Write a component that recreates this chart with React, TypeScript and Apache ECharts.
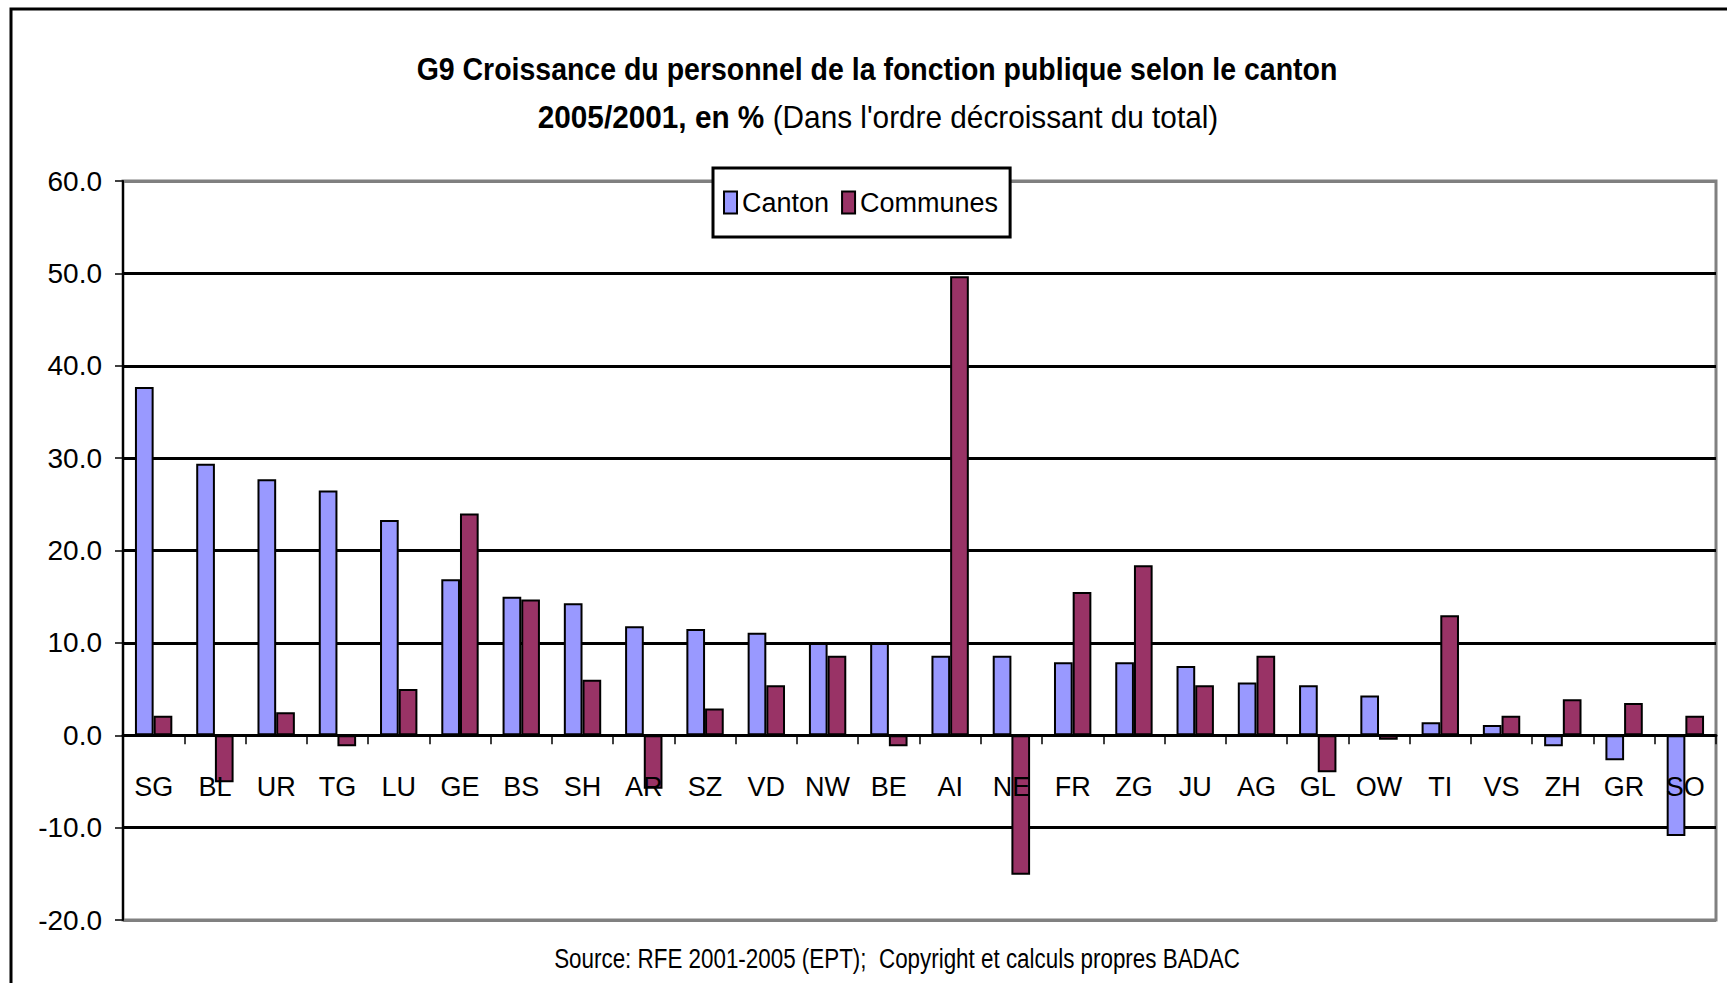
import React, { useEffect, useRef } from "react";
import * as echarts from "echarts";

const cantons = ["SG","BL","UR","TG","LU","GE","BS","SH","AR","SZ","VD","NW","BE","AI","NE","FR","ZG","JU","AG","GL","OW","TI","VS","ZH","GR","SO"];
const cantonValues = [37.7,29.4,27.7,26.5,23.3,16.9,15.0,14.3,11.8,11.5,11.1,10.0,10.0,8.6,8.6,7.9,7.9,7.5,5.7,5.4,4.3,1.4,1.1,-1.2,-2.7,-10.9];
const communesValues = [2.1,-5.1,2.5,-1.2,5.0,24.0,14.7,6.0,-5.8,2.9,5.4,8.6,-1.2,49.7,-15.1,15.5,18.4,5.4,8.6,-4.0,-0.5,13.0,2.1,3.9,3.5,2.1];
const seriesNames = ["Canton", "Communes"];
const yMin = -20;
const yMax = 60;
const yInterval = 10;

const titleLine1 = "G9 Croissance du personnel de la fonction publique selon le canton";
const titleLine2Bold = "2005/2001, en %";
const titleLine2Normal = "(Dans l'ordre décroissant du total)";
const footer = "Source: RFE 2001-2005 (EPT);  Copyright et calculs propres BADAC";

const FONT = "'Liberation Sans', Arial, sans-serif";

const W = 1727;
const H = 983;
const GRID = { left: 123, right: 11, top: 181, bottom: 63 };

export default function App() {
  const ref = useRef<HTMLDivElement>(null);
  useEffect(() => {
    if (!ref.current) return;
    const chart = echarts.init(ref.current, null, { renderer: "svg" });
    const plotH = H - GRID.top - GRID.bottom;
    const zeroFromBottom = plotH * (0 - yMin) / (yMax - yMin);
    const gridColors = ["#808080", "#000", "#000", "#000", "#000", "#000", "#000", "#000", "#808080"];
    chart.setOption({
      animation: false,
      backgroundColor: "#fff",
      textStyle: { fontFamily: FONT },
      grid: {
        left: GRID.left, right: GRID.right, top: GRID.top, bottom: GRID.bottom,
        show: true, borderColor: "#808080", borderWidth: 3, backgroundColor: "transparent",
      },
      legend: {
        left: 713, top: 168,
        data: seriesNames,
        icon: "rect",
        itemWidth: 13, itemHeight: 22, itemGap: 12,
        padding: [21, 12, 21, 10],
        borderColor: "#000", borderWidth: 3, backgroundColor: "#fff",
        itemStyle: { borderColor: "#000", borderWidth: 2 },
        textStyle: { fontFamily: FONT, fontSize: 27, color: "#000" },
      },
      xAxis: {
        type: "category",
        data: cantons,
        z: 10,
        offset: -zeroFromBottom,
        axisLine: { onZero: false, lineStyle: { color: "#000", width: 3 } },
        axisTick: { show: true, length: 9, lineStyle: { color: "#000", width: 1.5 } },
        axisLabel: { interval: 0, margin: 38, fontSize: 27, color: "#000", fontFamily: FONT },
        splitLine: { show: false },
      },
      yAxis: {
        type: "value",
        min: yMin, max: yMax, interval: yInterval,
        axisLine: { show: true, onZero: false, lineStyle: { color: "#000", width: 2 } },
        axisTick: { show: true, length: 8, lineStyle: { color: "#000", width: 1.5 } },
        axisLabel: { margin: 21, fontSize: 28, color: "#000", fontFamily: FONT, formatter: (v: number) => v.toFixed(1) },
        splitLine: { show: true, lineStyle: { color: gridColors, width: 3 } },
      },
      series: [
        {
          name: seriesNames[0], type: "bar", data: cantonValues,
          barWidth: "30.5%", barGap: "0%",
          itemStyle: { color: "#9999FF", borderColor: "#000", borderWidth: 2 },
        },
        {
          name: seriesNames[1], type: "bar", data: communesValues,
          barWidth: "30.5%", barGap: "0%",
          itemStyle: { color: "#993366", borderColor: "#000", borderWidth: 2 },
        },
      ],
      graphic: [
        {
          type: "rect", silent: true, z: 100,
          shape: { x: 11, y: 9, width: 1800, height: 1100 },
          style: { fill: "none", stroke: "#000", lineWidth: 3 },
        },
        {
          type: "text", x: 877, y: 69, scaleX: 0.89, z: 100,
          style: {
            text: titleLine1, textAlign: "center", textVerticalAlign: "middle",
            fontFamily: FONT, fontSize: 32, fontWeight: "bold", fill: "#000",
          },
        },
        {
          type: "text", x: 878, y: 117, scaleX: 0.93, z: 100,
          style: {
            text: "{b|" + titleLine2Bold + "}{n| " + titleLine2Normal + "}",
            textAlign: "center", textVerticalAlign: "middle",
            fontFamily: FONT, fontSize: 32, fill: "#000",
            rich: {
              b: { fontFamily: FONT, fontSize: 32, fontWeight: "bold", fill: "#000" },
              n: { fontFamily: FONT, fontSize: 32, fontWeight: "normal", fill: "#000" },
            },
          },
        },
        {
          type: "text", x: 897, y: 958, scaleX: 0.8, z: 100,
          style: {
            text: footer, textAlign: "center", textVerticalAlign: "middle",
            fontFamily: FONT, fontSize: 28, fill: "#000",
          },
        },
      ],
    });
    return () => chart.dispose();
  }, []);
  return (
    <div
      ref={ref}
      style={{ position: "fixed", left: 0, top: 0, width: W, height: H }}
    />
  );
}
